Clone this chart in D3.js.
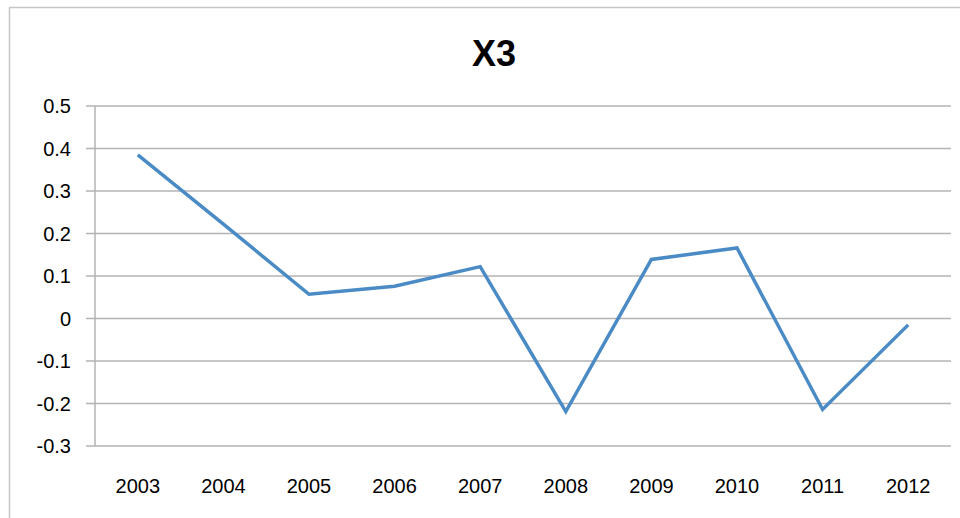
<!DOCTYPE html>
<html>
<head>
<meta charset="utf-8">
<script src="https://cdn.jsdelivr.net/npm/d3@7"></script>
<style>
  html, body { margin: 0; padding: 0; background: #fff; }
  svg { display: block; }
  text { font-family: "Liberation Sans", Arial, sans-serif; fill: #000; }
</style>
</head>
<body>
<svg id="chart" width="960" height="518"></svg>
<script>
// Series X3, one value per year
const years = ["2003", "2004", "2005", "2006", "2007", "2008", "2009", "2010", "2011", "2012"];
const x3Values = [0.385, 0.222, 0.057, 0.076, 0.122, -0.219, 0.139, 0.166, -0.214, -0.015];
const yTicks = [-0.3, -0.2, -0.1, 0, 0.1, 0.2, 0.3, 0.4, 0.5];
const chartTitle = "X3";

const svg = d3.select("#chart");
const W = 960, H = 518;
const plot = { left: 95, right: 951, top: 106, bottom: 446 };

// chart frame
svg.append("rect")
  .attr("x", 9.5).attr("y", 7.5)
  .attr("width", W + 20).attr("height", H + 20)
  .attr("fill", "#fff")
  .attr("stroke", "#c6c6c6")
  .attr("stroke-width", 1.5);

const x = d3.scaleBand().domain(years).range([plot.left, plot.right]).padding(0);
const y = d3.scaleLinear().domain([-0.3, 0.5]).range([plot.bottom, plot.top]);

// horizontal gridlines
svg.append("g")
  .selectAll("line")
  .data(yTicks)
  .join("line")
  .attr("x1", plot.left - 9).attr("x2", plot.right)
  .attr("y1", d => y(d)).attr("y2", d => y(d))
  .attr("stroke", "#b3b3b3")
  .attr("stroke-width", 1.5);

// value axis line
svg.append("line")
  .attr("x1", plot.left).attr("x2", plot.left)
  .attr("y1", plot.top).attr("y2", plot.bottom)
  .attr("stroke", "#b3b3b3")
  .attr("stroke-width", 1.5);

// y-axis labels
const fmt = d => d === 0 ? "0" : d3.format(".1f")(d).replace("−", "-");
svg.append("g")
  .selectAll("text")
  .data(yTicks)
  .join("text")
  .attr("x", 71)
  .attr("y", d => y(d))
  .attr("dy", "0.35em")
  .attr("text-anchor", "end")
  .attr("font-size", 20)
  .text(fmt);

// category labels
svg.append("g")
  .selectAll("text")
  .data(years)
  .join("text")
  .attr("x", d => x(d) + x.bandwidth() / 2)
  .attr("y", 486)
  .attr("dy", "0.35em")
  .attr("text-anchor", "middle")
  .attr("font-size", 20)
  .text(d => d);

// series line
const line = d3.line()
  .x((d, i) => x(years[i]) + x.bandwidth() / 2)
  .y(d => y(d));

svg.append("path")
  .datum(x3Values)
  .attr("d", line)
  .attr("fill", "none")
  .attr("stroke", "#4a8bc6")
  .attr("stroke-width", 3.5)
  .attr("stroke-linejoin", "miter");

// title
svg.append("text")
  .attr("x", 494)
  .attr("y", 53)
  .attr("dy", "0.35em")
  .attr("text-anchor", "middle")
  .attr("font-size", 36)
  .attr("font-weight", "bold")
  .text(chartTitle);
</script>
</body>
</html>
